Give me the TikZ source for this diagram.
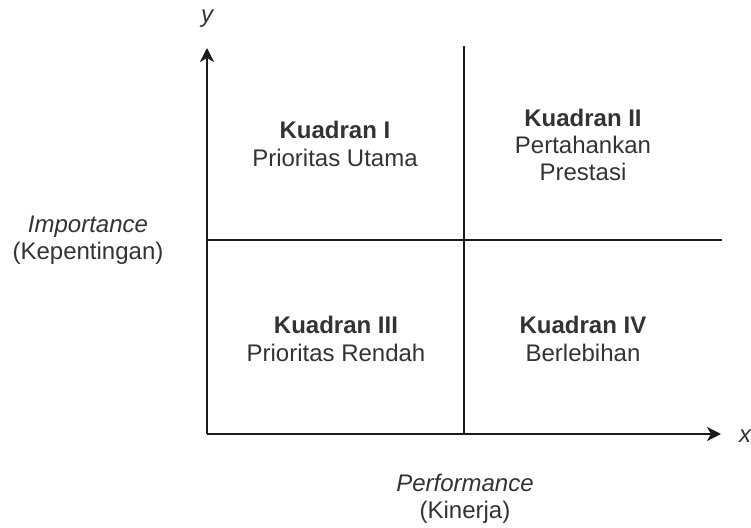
\documentclass[tikz,border=0pt]{standalone}
\usepackage{fontspec}
\setmainfont{Liberation Sans}
\usetikzlibrary{arrows.meta}
\definecolor{ink}{HTML}{333333}
\definecolor{axisline}{HTML}{1A1A1A}
\begin{document}
\begin{tikzpicture}[x=0.75pt,y=-0.75pt,
  axis/.style={draw=axisline,line width=1.5pt},
  axisarrow/.style={axis,-{Stealth[length=10.5pt,width=10.5pt,inset=3pt]}},
  lbl/.style={text=ink,align=center,inner sep=0pt,
    font=\fontsize{18pt}{20.5pt}\selectfont},
  quad/.style={lbl}]
\useasboundingbox (0,0) rectangle (751,528);
% axis and grid points
\coordinate (O) at (207,434);
\coordinate (ytip) at (207,48);
\coordinate (xtip) at (721,434);
\coordinate (vtop) at (464,46);
\coordinate (vbot) at (464,434);
\coordinate (hleft) at (207,240);
\coordinate (hright) at (722,240);
% quadrant dividers
\draw[axis] (vtop) -- (vbot);
\draw[axis] (hleft) -- (hright);
% axes
\draw[axisarrow] (O) -- (ytip);
\draw[axisarrow] (O) -- (xtip);
% axis letters
\node[lbl,font=\fontsize{18pt}{20.5pt}\selectfont\itshape] (ylab) at (207,19) {y};
\node[lbl,font=\fontsize{18pt}{20.5pt}\selectfont\itshape] (xlab) at (745,436) {x};
% axis titles
\node[lbl] (imp) at (88,240) {\textit{Importance}\\(Kepentingan)};
\node[lbl] (perf) at (465,499) {\textit{Performance}\\(Kinerja)};
% quadrant labels
\node[quad] (q1) at (335,144) {\textbf{Kuadran I}\\Prioritas Utama};
\node[quad] (q2) at (583,145) {\textbf{Kuadran II}\\Pertahankan\\Prestasi};
\node[quad] (q3) at (336,339) {\textbf{Kuadran III}\\Prioritas Rendah};
\node[quad] (q4) at (583,339) {\textbf{Kuadran IV}\\Berlebihan};
\end{tikzpicture}
\end{document}
